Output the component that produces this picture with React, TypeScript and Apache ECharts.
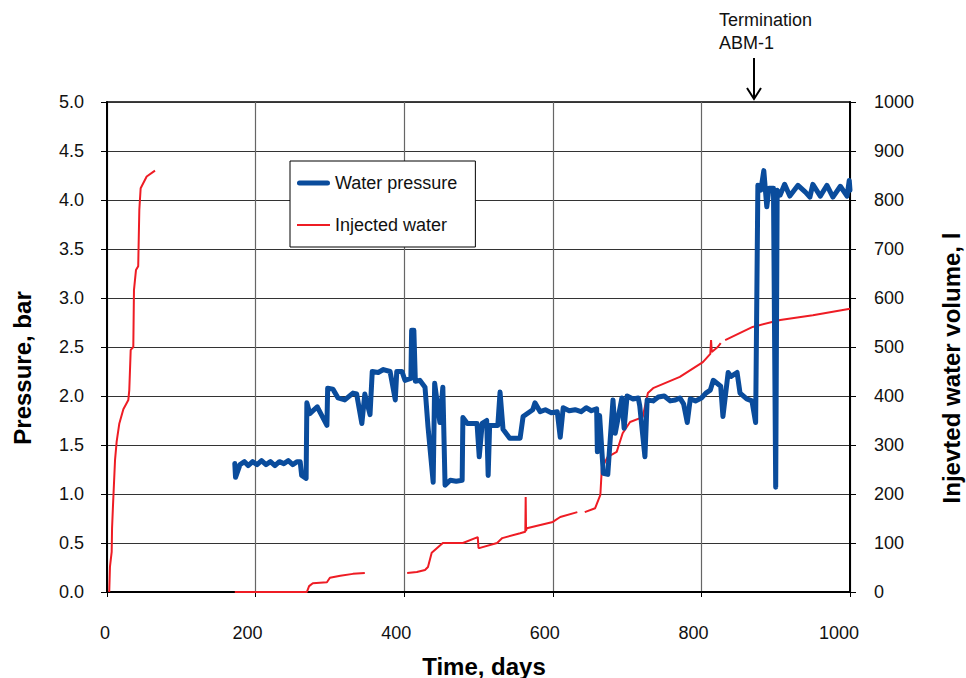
import React, { useEffect, useRef } from 'react';
import * as echarts from 'echarts';

// Time axis ticks (days)
const timeTicks = [0, 200, 400, 600, 800, 1000];

// Water pressure, bar  [day, pressure]
const waterPressure: [number, number][] = [
  [172, 1.31], [173, 1.17], [179, 1.30], [185, 1.33], [190, 1.29], [196, 1.33], [202, 1.30], [208, 1.34],
  [214, 1.30], [220, 1.33], [226, 1.29], [232, 1.33], [238, 1.31], [244, 1.34], [250, 1.30], [256, 1.33],
  [260, 1.33], [262, 1.19], [268, 1.16], [269, 1.93], [273, 1.82], [283, 1.89], [296, 1.70], [297, 2.08],
  [304, 2.07], [311, 1.98], [320, 1.96], [331, 2.03], [336, 2.02], [343, 1.72], [347, 2.02], [354, 1.81],
  [357, 2.25], [365, 2.24], [372, 2.27], [381, 2.25], [388, 1.96], [390, 2.25], [397, 2.25], [401, 2.16],
  [409, 2.18], [410, 2.67], [413, 2.67], [415, 2.15], [421, 2.16], [428, 2.09], [432, 1.69], [439, 1.12],
  [441, 2.13], [448, 1.73], [452, 2.09], [455, 1.09], [462, 1.14], [470, 1.13], [478, 1.14], [479, 1.78],
  [485, 1.72], [498, 1.72], [501, 1.38], [505, 1.72], [511, 1.75], [513, 1.19], [515, 1.70], [526, 1.70],
  [529, 2.04], [533, 1.66], [542, 1.57], [556, 1.57], [560, 1.79], [573, 1.86], [576, 1.93], [583, 1.84],
  [590, 1.86], [598, 1.83], [606, 1.84], [610, 1.58], [614, 1.88], [622, 1.85], [630, 1.86], [638, 1.84],
  [645, 1.88], [652, 1.85], [659, 1.87], [660, 1.43], [663, 1.80], [668, 1.21], [674, 1.20], [681, 1.96],
  [684, 1.62], [693, 1.98], [696, 1.67], [700, 2.00], [708, 1.97], [715, 1.98], [717, 1.90], [724, 1.38],
  [727, 1.96], [735, 1.95], [742, 1.99], [750, 2.00], [758, 1.95], [765, 1.96], [771, 1.98], [776, 1.92],
  [781, 1.73], [785, 1.97], [792, 1.95], [800, 1.98], [806, 2.03], [812, 2.06], [816, 2.16], [826, 2.10],
  [829, 1.79], [836, 2.24], [840, 2.20], [848, 2.24], [852, 2.03], [861, 1.97], [868, 1.95], [873, 1.73],
  [876, 4.15], [880, 4.10], [884, 4.30], [888, 3.93], [891, 4.12], [897, 4.12], [900, 1.07], [902, 4.10],
  [906, 4.05], [912, 4.16], [919, 4.04], [930, 4.15], [940, 4.08], [946, 4.03], [950, 4.16], [960, 4.04],
  [969, 4.15], [977, 4.03], [987, 4.14], [996, 4.04], [999, 4.20], [1000, 4.10],
];

// Injected water volume, l  [day, litres]  ('-' breaks the line)
const injectedWater: [number, number | string][] = [
  [3, 0], [4, 52], [6.3, 82], [6.8, 130], [8, 174], [10.8, 269], [13, 307], [16.6, 344], [22, 373],
  [28.7, 392], [30, 412], [31.9, 494], [35.4, 500], [36.3, 616], [39, 657], [42, 665], [43.5, 780],
  [45.3, 824], [53.4, 848], [64.6, 860], [100, '-'],
  [172, 0], [262, 0], [269, 0], [272, 12], [277, 18], [296, 20], [300, 29], [314, 33], [331, 37], [347, 39],
  [380, '-'],
  [404, 39], [417, 41], [428, 45], [432, 51], [437, 80], [452, 100], [479, 100], [499, 112], [500, 90],
  [502, 90], [525, 100], [532, 110], [556, 120], [563, 123], [563.5, 194], [564, 125], [565, 130],
  [600, 143], [610, 153], [633, 163], [638, '-'],
  [643, 163], [657, 171], [664, 198], [666, 253], [674, 276], [686, 286], [694, 324], [704, 347],
  [721, 357], [728, 406], [735, 416], [771, 439], [802, 469], [812, 486], [813, 514], [814, 490],
  [822, 500], [826, 508], [829, '-'],
  [832, 514], [869, 541], [906, 555], [950, 565], [1000, 578],
];

const FONT = '"Liberation Sans", Arial, sans-serif';
const BLUE = '#0a4c9c';
const RED = '#ee1c24';

export default function App() {
  const ref = useRef<HTMLDivElement>(null);

  useEffect(() => {
    if (!ref.current) return;
    const chart = echarts.init(ref.current, undefined, { renderer: 'svg' });
    const xRich: Record<string, any> = {
      a: { fontSize: 18, color: '#111', fontFamily: FONT, padding: [0, 4, 0, 0] },
      b: { fontSize: 18, color: '#111', fontFamily: FONT, padding: [0, 16, 0, 0] },
      c: { fontSize: 18, color: '#111', fontFamily: FONT, padding: [0, 22, 0, 0] },
    };
    chart.setOption({
      animation: false,
      backgroundColor: '#fff',
      textStyle: { fontFamily: FONT },
      grid: {
        left: 107, right: 116, top: 102, bottom: 86,
        show: true, borderColor: '#000', borderWidth: 1.5,
      },
      legend: {
        left: 290, top: 161, orient: 'vertical',
        backgroundColor: '#fff', borderColor: '#000', borderWidth: 1,
        padding: [13, 18, 13, 7], itemWidth: 33, itemHeight: 14, itemGap: 24,
        symbolKeepAspect: true,
        textStyle: { fontSize: 18, color: '#111', fontFamily: FONT },
        data: [
          { name: 'Water pressure', icon: 'path://M2.5,0 H30.5 A2.5,2.5 0 0 1 30.5,5 H2.5 A2.5,2.5 0 0 1 2.5,0 Z' },
          { name: 'Injected water', icon: 'path://M0,0 H33 V2 H0 Z' },
        ],
      },
      xAxis: {
        type: 'value', min: 0, max: 1000, interval: 200,
        axisLine: { show: true, lineStyle: { color: '#000', width: 2 } },
        axisTick: { show: true, length: 5, lineStyle: { color: '#000' } },
        splitLine: { show: true, lineStyle: { color: '#666', width: 1.2 } },
        axisLabel: {
          margin: 32,
          formatter: (v: number) => {
            const key = v === timeTicks[0] ? 'a' : v === timeTicks[timeTicks.length - 1] ? 'c' : 'b';
            return `{${key}|${v}}`;
          },
          rich: xRich,
        },
      },
      yAxis: [
        {
          type: 'value', min: 0, max: 5, interval: 0.5, position: 'left',
          axisLine: { show: true, lineStyle: { color: '#000', width: 2 } },
          axisTick: { show: true, length: 6, lineStyle: { color: '#000' } },
          splitLine: { show: true, lineStyle: { color: '#333', width: 1 } },
          axisLabel: { margin: 23, fontSize: 18, color: '#111', formatter: (v: number) => v.toFixed(1) },
        },
        {
          type: 'value', min: 0, max: 1000, interval: 100, position: 'right',
          axisLine: { show: true, lineStyle: { color: '#000', width: 2 } },
          axisTick: { show: true, length: 6, lineStyle: { color: '#000' } },
          splitLine: { show: false },
          axisLabel: { margin: 24, fontSize: 18, color: '#111', formatter: (v: number) => String(v) },
        },
      ],
      series: [
        {
          name: 'Injected water', type: 'line', yAxisIndex: 1,
          data: injectedWater, showSymbol: false, symbol: 'none', connectNulls: false,
          lineStyle: { color: RED, width: 2 }, itemStyle: { color: RED },
          z: 3,
        },
        {
          name: 'Water pressure', type: 'line', yAxisIndex: 0,
          data: waterPressure, showSymbol: false, symbol: 'none',
          lineStyle: { color: BLUE, width: 5, cap: 'round', join: 'round' },
          itemStyle: { color: BLUE },
          z: 4,
        },
      ],
      graphic: [
        {
          type: 'text', x: 22, y: 368, rotation: Math.PI / 2,
          style: { text: 'Pressure, bar', font: `bold 24px ${FONT}`, fill: '#000', align: 'center', verticalAlign: 'middle' },
        },
        {
          type: 'text', x: 951, y: 368, rotation: Math.PI / 2,
          style: { text: 'Injevted water volume, l', font: `bold 24px ${FONT}`, fill: '#000', align: 'center', verticalAlign: 'middle' },
        },
        {
          type: 'text', x: 484, y: 666,
          style: { text: 'Time, days', font: `bold 24px ${FONT}`, fill: '#000', align: 'center', verticalAlign: 'middle' },
        },
        {
          type: 'text', x: 719, y: 20,
          style: { text: 'Termination', font: `18px ${FONT}`, fill: '#111', align: 'left', verticalAlign: 'middle' },
        },
        {
          type: 'text', x: 719, y: 43,
          style: { text: 'ABM-1', font: `18px ${FONT}`, fill: '#111', align: 'left', verticalAlign: 'middle' },
        },
        {
          type: 'line', shape: { x1: 754, y1: 58, x2: 754, y2: 99 },
          style: { stroke: '#000', lineWidth: 2 },
        },
        {
          type: 'polyline', shape: { points: [[747, 88], [754, 99], [761, 88]] },
          style: { stroke: '#000', lineWidth: 2, fill: null },
        },
      ],
    });
    return () => chart.dispose();
  }, []);

  return <div ref={ref} style={{ position: 'fixed', left: 0, top: 0, width: 966, height: 678 }} />;
}
